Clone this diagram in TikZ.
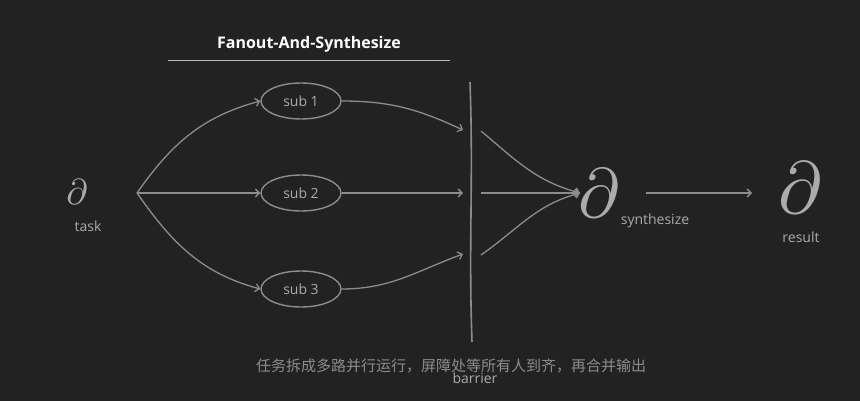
\documentclass[tikz,border=0pt]{standalone}
\usepackage{fontspec}
\setmainfont{Open Sans}
\newfontfamily\cjk{Noto Sans CJK SC}
\usetikzlibrary{arrows.meta, positioning, shapes.geometric}
\definecolor{bgdark}{HTML}{222222}
\definecolor{inkgray}{HTML}{8C8C8C}
\definecolor{txtgray}{HTML}{ABABAB}

\begin{document}
\begin{tikzpicture}[
    x=1pt, y=-1pt,
    sub/.style={ellipse, draw=inkgray, line width=1.4pt, minimum width=80pt, minimum height=36pt, text=txtgray, font=\fontsize{14}{16}\selectfont},
    glyph/.style={text=txtgray, inner sep=0pt, scale=#1},
    lbl/.style={text=txtgray, font=\fontsize{14}{16}\selectfont},
    arrow/.style={draw=inkgray, line width=1.3pt, -{Straight Barb[length=4pt, width=8pt]}}
]
\fill[bgdark] (0,0) rectangle (860,401);

% Title
\node[text=white, font=\bfseries\fontsize{16}{18}\selectfont] (title) at (309,44) {Fanout-And-Synthesize};
\draw[inkgray!60, line width=0.6pt] (168,60) -- (450,60);

% Nodes
\node[glyph=3.6] (task) at (77,192) {$\partial$};
\node[lbl] (tasklbl) at (88,226) {task};
\coordinate (fan) at (137,193);
\node[sub] (sub1) at (301,101) {sub 1};
\node[sub] (sub2) at (301,193) {sub 2};
\node[sub] (sub3) at (301,289) {sub 3};
\coordinate (b1) at (463,130);
\coordinate (b2) at (463,193);
\coordinate (b3) at (463,254);
\coordinate (a1) at (481,131);
\coordinate (a2) at (481,193);
\coordinate (a3) at (481,255);
\coordinate (join) at (580,193);
\node[glyph=7] (synth) at (599,193) {$\partial$};
\node[lbl] (synthlbl) at (655,221) {synthesize};
\coordinate (out) at (646,193);
\coordinate (in) at (752,193);
\node[glyph=7.4] (result) at (800,188) {$\partial$};
\node[lbl] (resultlbl) at (801,237) {result};
\coordinate (bartop) at (470,82);
\coordinate (barbot) at (472,342);
\node[lbl] (barlbl) at (475,378) {barrier};
\node[text=inkgray, font=\cjk\fontsize{15}{17}\selectfont] (caption) at (451,366) {任务拆成多路并行运行，屏障处等所有人到齐，再合并输出};

% Arrows
\draw[arrow] (fan) to[out=55, in=195] (sub1.west);
\draw[arrow] (fan) -- (sub2.west);
\draw[arrow] (fan) to[out=-55, in=165] (sub3.west);
\draw[arrow] (sub1.east) to[out=0, in=155] (b1);
\draw[arrow] (sub2.east) -- (b2);
\draw[arrow] (sub3.east) to[out=0, in=200] (b3);
\draw[draw=inkgray, line width=1.6pt] (bartop) to[out=-88, in=92] (barbot);
\draw[arrow] (a1) to[out=-40, in=165] (join);
\draw[arrow] (a2) -- (join);
\draw[arrow] (a3) to[out=35, in=195] (join);
\draw[arrow] (out) -- (in);

\end{tikzpicture}
\end{document}
